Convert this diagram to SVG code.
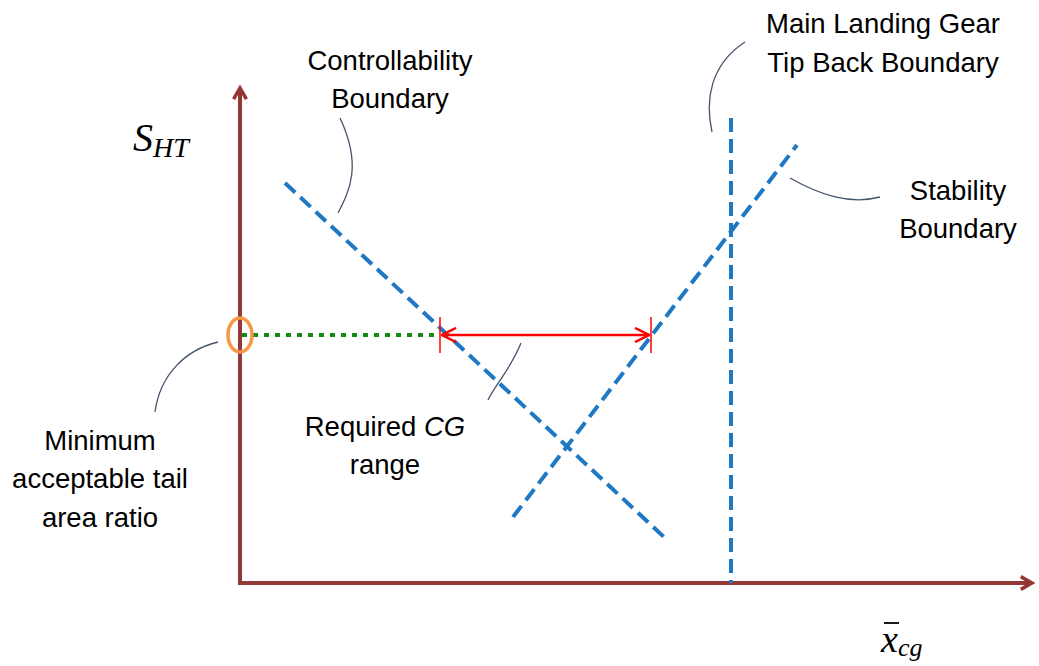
<svg xmlns="http://www.w3.org/2000/svg" width="1039" height="666" viewBox="0 0 1039 666">
<defs>
<style>
.axis{stroke:#953735;stroke-width:4;fill:none}
.bound{stroke:#1F78C4;stroke-width:4;stroke-dasharray:14 7;fill:none}
.call{stroke:#44546A;stroke-width:1.3;fill:none}
.lbl{font-family:"Liberation Sans",Arial,sans-serif;font-size:27.5px;fill:#000;text-anchor:middle}
.math{font-family:"Liberation Serif","Times New Roman",serif;font-style:italic;fill:#000}
</style>
<marker id="axhead" viewBox="0 0 10 10" refX="8" refY="5" markerWidth="4" markerHeight="4" orient="auto" markerUnits="strokeWidth">
<path d="M1,1 L8,5 L1,9" fill="none" stroke="#953735" stroke-width="2.2"/>
</marker>
<marker id="redhead" viewBox="0 0 16 16" refX="15" refY="8" markerWidth="16" markerHeight="16" orient="auto-start-reverse" markerUnits="userSpaceOnUse">
<path d="M1,1 L15,8 L1,15" fill="none" stroke="#FF0000" stroke-width="2.5"/>
</marker>
</defs>
<rect width="1039" height="666" fill="#fff"/>
<g id="axes">
<line class="axis" x1="240" y1="583" x2="240" y2="88" marker-end="url(#axhead)"/>
<line class="axis" x1="238" y1="583" x2="1032" y2="583" marker-end="url(#axhead)"/>
</g>
<g id="connectors">
<line id="controllability-line" class="bound" x1="285" y1="183" x2="665" y2="538"/>
<line id="stability-line" class="bound" x1="513" y1="517" x2="797" y2="145"/>
<line id="landing-gear-line" class="bound" x1="731" y1="118" x2="731" y2="583"/>
<line id="min-tail" x1="242" y1="335" x2="440" y2="335" stroke="#138A13" stroke-width="4" stroke-dasharray="5 6"/>
<line id="cg-range" x1="442" y1="335" x2="649" y2="335" stroke="#FF0000" stroke-width="2.5" marker-start="url(#redhead)" marker-end="url(#redhead)"/>
<line x1="440" y1="317" x2="440" y2="353" stroke="#FF0000" stroke-width="1.5"/>
<line x1="651" y1="317" x2="651" y2="353" stroke="#FF0000" stroke-width="1.5"/>
<path class="call" d="M338,213 C350,190 362,165 340,118"/>
<path class="call" d="M712,132 C705,100 710,65 745,42"/>
<path class="call" d="M790,178 C820,195 850,205 880,197"/>
<path class="call" d="M218,342 C185,350 160,375 155,412"/>
<path class="call" d="M521,343 C510,370 495,385 488,400"/>
</g>
<g id="min-marker">
<ellipse cx="240" cy="335" rx="12" ry="17" fill="none" stroke="#F79646" stroke-width="3.5"/>
</g>
<g id="label-controllability">
<text class="lbl" x="390" y="70">Controllability</text>
<text class="lbl" x="390" y="108">Boundary</text>
</g>
<g id="label-landing-gear">
<text class="lbl" x="883" y="33">Main Landing Gear</text>
<text class="lbl" x="883" y="72">Tip Back Boundary</text>
</g>
<g id="label-stability">
<text class="lbl" x="958" y="200">Stability</text>
<text class="lbl" x="958" y="238">Boundary</text>
</g>
<g id="label-min">
<text class="lbl" x="100" y="450">Minimum</text>
<text class="lbl" x="100" y="488">acceptable tail</text>
<text class="lbl" x="100" y="527">area ratio</text>
</g>
<g id="label-cg">
<text class="lbl" x="385" y="436">Required <tspan font-style="italic">CG</tspan></text>
<text class="lbl" x="385" y="474">range</text>
</g>
<g id="y-label">
<text class="math" x="133" y="151" font-size="40">S<tspan font-size="28" dy="6">HT</tspan></text>
</g>
<g id="x-label">
<text class="math" x="881" y="652" font-size="38">x<tspan font-size="26" dy="4">cg</tspan></text>
<line x1="884" y1="623" x2="899" y2="623" stroke="#000" stroke-width="1.8"/>
</g>
</svg>
